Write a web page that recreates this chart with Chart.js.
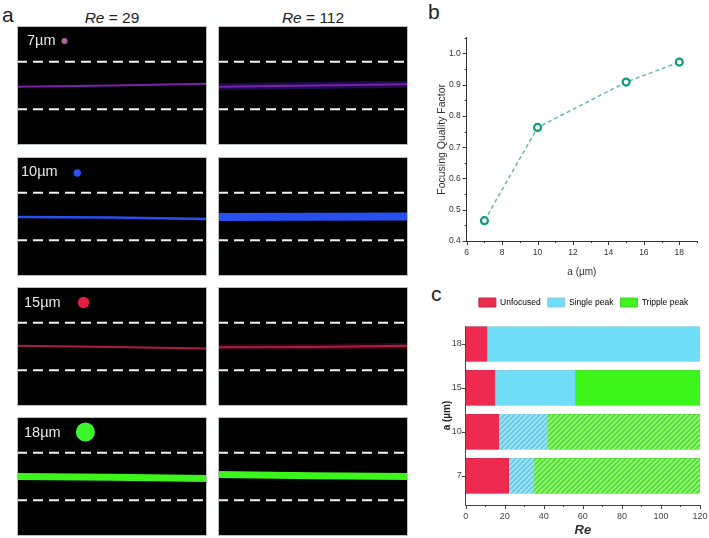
<!DOCTYPE html>
<html>
<head>
<meta charset="utf-8">
<title>Focusing of particles</title>
<script src="https://cdn.jsdelivr.net/npm/chart.js@4"></script>
<style>
    html, body { margin: 0; padding: 0; background: #fff; }
    body { position: relative; width: 709px; height: 538px; overflow: hidden; font-family: "Liberation Sans", Arial, sans-serif; }
    canvas { position: absolute; display: block; }
    .letter { position: absolute; font-size: 21px; color: #222; line-height: 22px; }
    .header { position: absolute; top: 8px; font-size: 15.5px; color: #222; width: 190px; text-align: center; line-height: 20px; }
    .size { position: absolute; font-size: 14.5px; color: #e8e8e8; line-height: 16px; }
</style>
</head>
<body>
<div class="letter" style="left:2px;top:4px">a</div>
<div class="letter" style="left:428px;top:1px">b</div>
<div class="letter" style="left:431px;top:283px">c</div>
<div class="header" style="left:17px"><i>Re</i> = 29</div>
<div class="header" style="left:218px"><i>Re</i> = 112</div>

<script>
// Panel a: particle sizes and the stream position in the channel (wall = +/-1)
const sizes = ["7µm", "10µm", "15µm", "18µm"];
const channelWalls = [1, -1];
const streamX = [0, 0.5, 1];
const streamRe29 = [
    [-0.05, 0, 0.07],
    [-0.02, -0.04, -0.1],
    [0.03, -0.02, -0.08],
    [0, -0.03, -0.08]
];
const streamRe112 = [
    [-0.05, 0, 0.05],
    [-0.02, -0.01, 0],
    [-0.03, -0.02, 0.03],
    [0.08, 0.03, 0]
];
const dotX = [0.25, 0.317, 0.35, 0.36];
const dotY = [1.87, 1.83, 1.85, 1.87];

// Panel b
const sizeValues = [7, 10, 15, 18];
const qualityFactor = [0.465, 0.763, 0.908, 0.972];

// Panel c
const stackCategories = ["18", "15", "10", "7"];
const rowPosition = [4, 3, 2, 1];
const unfocused = [11, 15, 17, 22];
const singlePeak = [109, 41, 25, 13];
const tripplePeak = [0, 64, 78, 85];

// Looks of the panel a rows
const streamColors = ["#7c22a8", "#2850f0", "#b01c48", "#3cf51a"];
const streamWidths29 = [2, 2.5, 2, 7];
const streamWidths112 = [2, 8, 2, 7];
const haloWidths112 = [7, 0, 6, 0];
const haloColors = ["#1c0c4c", "", "#2c0610", ""];
const dotColors = ["#a8689a", "#2a52f5", "#e0203f", "#3cf52a"];
const dotRadius = [3, 3.7, 5.7, 9.5];
const rowTops = [26, 157, 287, 417];
const labelLeft = [27, 21, 24, 24];
const labelTop = [32, 163, 294, 424];

function addCanvas(left, top, width, height) {
    const canvas = document.createElement("canvas");
    canvas.width = width;
    canvas.height = height;
    canvas.style.left = left + "px";
    canvas.style.top = top + "px";
    canvas.style.width = width + "px";
    canvas.style.height = height + "px";
    document.body.appendChild(canvas);
    return canvas;
}

// Fills a micrograph panel, frame drawn over the stream ends
const blackBackground = {
    id: "blackBackground",
    beforeDraw(chart) {
        const ctx = chart.ctx;
        ctx.save();
        ctx.fillStyle = "#000";
        ctx.fillRect(0, 0, chart.width, chart.height);
        ctx.restore();
    },
    afterDraw(chart) {
        const ctx = chart.ctx;
        ctx.save();
        ctx.strokeStyle = "#b8c0c0";
        ctx.lineWidth = 1;
        ctx.strokeRect(0.5, 0.5, chart.width - 1, chart.height - 1);
        ctx.restore();
    }
};

function pairs(xs, ys) {
    return xs.map((x, i) => ({ x: x, y: ys[i] }));
}

function makePanel(left, row, stream, width, haloWidth, withDot) {
    const datasets = [];
    channelWalls.forEach(function (wall) {
        datasets.push({
            data: pairs([0, 1], [wall, wall]),
            showLine: true,
            borderColor: "#f2f2ea",
            borderWidth: 2,
            borderDash: [10, 6],
            pointRadius: 0
        });
    });
    // Chart.js paints the first dataset last, so the bright core goes before its halo
    datasets.push({
        data: pairs(streamX, stream),
        showLine: true,
        borderColor: streamColors[row],
        borderWidth: width,
        pointRadius: 0
    });
    if (haloWidth) {
        datasets.push({
            data: pairs(streamX, stream),
            showLine: true,
            borderColor: haloColors[row],
            borderWidth: haloWidth,
            pointRadius: 0
        });
    }
    if (withDot) {
        datasets.push({
            data: [{ x: dotX[row], y: dotY[row] }],
            showLine: false,
            pointRadius: dotRadius[row],
            pointBackgroundColor: dotColors[row],
            pointBorderWidth: 0
        });
    }
    new Chart(addCanvas(left, rowTops[row], 190, 119), {
        type: "scatter",
        data: { datasets: datasets },
        plugins: [blackBackground],
        options: {
            responsive: false,
            animation: false,
            events: [],
            layout: { padding: 0, autoPadding: false },
            plugins: { legend: { display: false }, tooltip: { enabled: false } },
            scales: {
                x: { type: "linear", display: false, min: 0, max: 1 },
                y: { type: "linear", display: false, min: -2.5, max: 2.5 }
            }
        }
    });
}

sizes.forEach(function (label, row) {
    makePanel(17, row, streamRe29[row], streamWidths29[row], 0, true);
    makePanel(218, row, streamRe112[row], streamWidths112[row], haloWidths112[row], false);

    const text = document.createElement("div");
    text.className = "size";
    text.textContent = label;
    text.style.left = labelLeft[row] + "px";
    text.style.top = labelTop[row] + "px";
    document.body.appendChild(text);
});

// Outward tick marks, long ones at the labelled values and short ones between
function axisTicks(id, xMajor, xMinor, yMajor, yMinor, color) {
    return {
        id: id,
        afterDraw(chart) {
            const ctx = chart.ctx;
            const area = chart.chartArea;
            ctx.save();
            ctx.strokeStyle = color;
            ctx.lineWidth = 1;
            function xTick(value, len) {
                const px = Math.round(chart.scales.x.getPixelForValue(value)) + 0.5;
                ctx.beginPath();
                ctx.moveTo(px, area.bottom);
                ctx.lineTo(px, area.bottom + len);
                ctx.stroke();
            }
            function yTick(value, len) {
                const py = Math.round(chart.scales.y.getPixelForValue(value)) + 0.5;
                ctx.beginPath();
                ctx.moveTo(area.left, py);
                ctx.lineTo(area.left - len, py);
                ctx.stroke();
            }
            xMajor.forEach((v) => xTick(v, 4));
            xMinor.forEach((v) => xTick(v, 2));
            yMajor.forEach((v) => yTick(v, 4));
            yMinor.forEach((v) => yTick(v, 2));
            ctx.restore();
        }
    };
}

// Panel b chart
new Chart(addCanvas(436, 20, 273, 260), {
    type: "scatter",
    data: {
        datasets: [{
            data: pairs(sizeValues, qualityFactor),
            showLine: true,
            borderColor: "#62b8b4",
            borderWidth: 1.5,
            borderDash: [4, 3],
            pointRadius: 3.5,
            pointBackgroundColor: "#fff",
            pointBorderColor: "#0f9a78",
            pointBorderWidth: 2.2
        }]
    },
    plugins: [axisTicks("ticksB",
        [6, 8, 10, 12, 14, 16, 18],
        [7, 9, 11, 13, 15, 17, 19],
        [0.4, 0.5, 0.6, 0.7, 0.8, 0.9, 1.0],
        [0.45, 0.55, 0.65, 0.75, 0.85, 0.95, 1.05],
        "#333")],
    options: {
        responsive: false,
        animation: false,
        events: [],
        layout: { padding: { top: 17.7, right: 12, bottom: 0, left: 0 }, autoPadding: false },
        plugins: { legend: { display: false }, tooltip: { enabled: false } },
        scales: {
            x: {
                type: "linear",
                min: 6,
                max: 19,
                afterFit: (s) => { s.height = 39; },
                grid: { display: false, drawTicks: false },
                border: { color: "#333", width: 1 },
                ticks: {
                    stepSize: 2,
                    padding: 7,
                    maxRotation: 0,
                    autoSkip: false,
                    color: "#333",
                    font: { size: 8.5, family: "Liberation Sans" },
                    callback: (v) => (v % 2 === 0 ? String(v) : "")
                },
                title: { display: true, text: "a (µm)", color: "#333", padding: { top: 3, bottom: 2 }, font: { size: 10, family: "Liberation Sans" } }
            },
            y: {
                type: "linear",
                min: 0.4,
                max: 1.05,
                afterFit: (s) => { s.width = 30.7; },
                grid: { display: false, drawTicks: false },
                border: { color: "#333", width: 1 },
                ticks: {
                    stepSize: 0.1,
                    padding: 6,
                    color: "#333",
                    font: { size: 8.5, family: "Liberation Sans" },
                    callback: (v) => (v > 1.001 ? "" : v.toFixed(1))
                },
                title: { display: true, text: "Focusing Quality Factor", color: "#333", padding: { top: 0, bottom: 0 }, font: { size: 10.5, family: "Liberation Sans" } }
            }
        }
    }
});

// Diagonal stripes for the bars of the two smaller particles
function stripes(base) {
    const tile = document.createElement("canvas");
    tile.width = 5;
    tile.height = 5;
    const t = tile.getContext("2d");
    t.fillStyle = base;
    t.fillRect(0, 0, 5, 5);
    t.strokeStyle = "rgba(255,255,255,0.55)";
    t.lineWidth = 1.3;
    t.beginPath();
    t.moveTo(-1, 6); t.lineTo(6, -1);
    t.moveTo(-1, 1); t.lineTo(1, -1);
    t.moveTo(4, 6); t.lineTo(6, 4);
    t.stroke();
    return t.createPattern(tile, "repeat");
}

const redFill = "#ef2a50";
const cyanFill = "#6fdcf8";
const greenFill = "#3cf51a";

// Makes room under the legend and moves it over the bars
const legendPlace = {
    id: "legendPlace",
    beforeInit(chart) {
        const fit = chart.legend.fit;
        chart.legend.fit = function () {
            fit.call(this);
            this.height += 9;
        };
    },
    afterLayout(chart) {
        chart.legend.left += 13;
        chart.legend.right += 13;
    }
};

// Panel c chart
new Chart(addCanvas(441, 291, 268, 247), {
    type: "bar",
    data: {
        datasets: [
            { label: "Unfocused", data: pairs(unfocused, rowPosition), backgroundColor: redFill, borderColor: "#b8304f", borderWidth: 0.5 },
            { label: "Single peak", data: pairs(singlePeak, rowPosition), backgroundColor: [cyanFill, cyanFill, stripes("#62cde8"), stripes("#62cde8")], borderColor: "#8cc8d8", borderWidth: 0.5 },
            { label: "Tripple peak", data: pairs(tripplePeak, rowPosition), backgroundColor: [greenFill, greenFill, stripes("#4ee62a"), stripes("#4ee62a")], borderColor: "#50c838", borderWidth: 0.5 }
        ]
    },
    plugins: [legendPlace, axisTicks("ticksC",
        [0, 20, 40, 60, 80, 100, 120],
        [10, 30, 50, 70, 90, 110],
        rowPosition,
        [],
        "#444")],
    options: {
        indexAxis: "y",
        responsive: false,
        animation: false,
        events: [],
        datasets: { bar: { barThickness: 35 } },
        layout: { padding: { top: 0, right: 9, bottom: 0, left: 0 }, autoPadding: false },
        plugins: {
            tooltip: { enabled: false },
            legend: {
                position: "top",
                align: "center",
                labels: {
                    boxWidth: 17,
                    boxHeight: 9,
                    padding: 7,
                    color: "#333",
                    font: { size: 8.5, family: "Liberation Sans" },
                    generateLabels: () => [
                        { text: "Unfocused", fillStyle: redFill, strokeStyle: "#b8304f", lineWidth: 1 },
                        { text: "Single peak", fillStyle: cyanFill, strokeStyle: "#8cc8d8", lineWidth: 1 },
                        { text: "Tripple peak", fillStyle: greenFill, strokeStyle: "#50c838", lineWidth: 1 }
                    ]
                }
            }
        },
        scales: {
            x: {
                type: "linear",
                stacked: true,
                min: 0,
                max: 120,
                afterFit: (s) => { s.height = 33; s.paddingLeft = 0; s.paddingRight = 0; },
                grid: { display: false, drawTicks: false },
                border: { color: "#444", width: 1 },
                ticks: { stepSize: 20, padding: 6, maxRotation: 0, color: "#444", font: { size: 9, family: "Liberation Sans" } },
                title: { display: true, text: "Re", color: "#333", padding: { top: 3, bottom: 0 }, font: { size: 13, weight: "bold", style: "italic", family: "Liberation Sans" } }
            },
            y: {
                type: "linear",
                stacked: true,
                offset: false,
                min: 0.336,
                max: 4.41,
                afterFit: (s) => { s.width = 24.7; },
                afterBuildTicks: (s) => { s.ticks = rowPosition.map((v) => ({ value: v })); },
                grid: { display: false, drawTicks: false, offset: false },
                border: { color: "#444", width: 1 },
                ticks: {
                    padding: 4,
                    color: "#444",
                    font: { size: 9, family: "Liberation Sans" },
                    callback: (v) => stackCategories[rowPosition.indexOf(v)]
                },
                title: { display: true, text: "a (µm)", color: "#222", padding: { top: 0, bottom: 0 }, font: { size: 10, weight: "bold", family: "Liberation Sans" } }
            }
        }
    }
});
</script>
</body>
</html>
